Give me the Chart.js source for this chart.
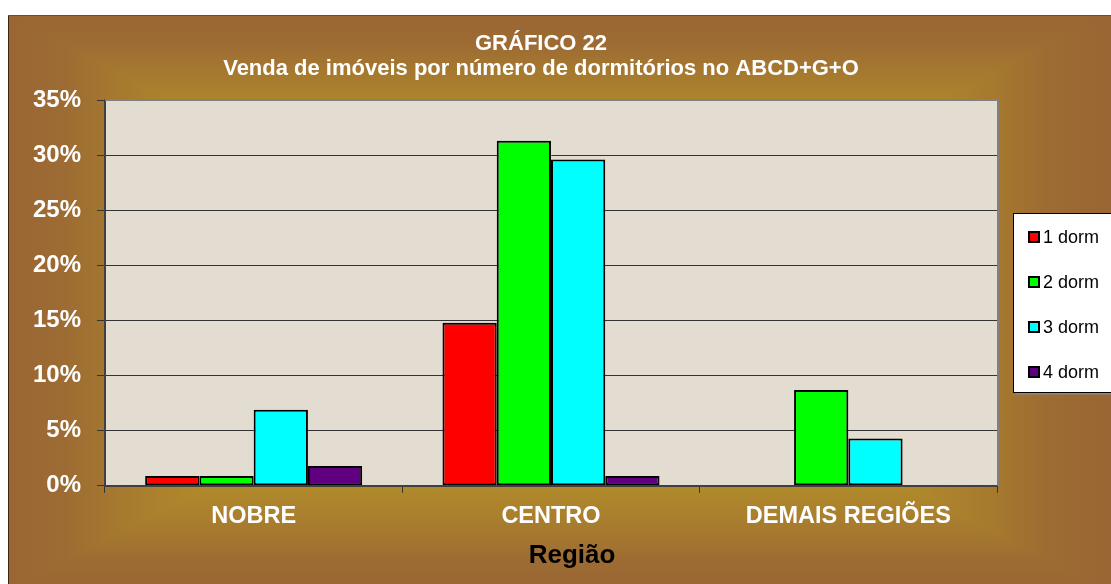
<!DOCTYPE html>
<html lang="pt-BR">
<head>
<meta charset="utf-8">
<title>Gráfico 22</title>
<script src="https://cdn.jsdelivr.net/npm/chart.js@4/dist/chart.umd.min.js"></script>
<style>
  html, body { margin: 0; padding: 0; background: #fff; overflow: hidden; }
  #wrap { position: relative; width: 1111px; height: 584px; }
</style>
</head>
<body>
<div id="wrap"><canvas id="dormChart" width="1111" height="584"></canvas></div>
<script>
'use strict';

// Chart data
const regioes = ['NOBRE', 'CENTRO', 'DEMAIS REGIÕES'];
const dorm1 = [0.9, 14.8, 0];
const dorm2 = [0.9, 31.3, 8.7];
const dorm3 = [6.9, 29.6, 4.3];
const dorm4 = [1.8, 0.9, 0];
const seriesLabels = ['1 dorm', '2 dorm', '3 dorm', '4 dorm'];
const yTicks = [0, 5, 10, 15, 20, 25, 30, 35];
const titleLines = ['GRÁFICO 22', 'Venda de imóveis por número de dormitórios no ABCD+G+O'];
const xAxisTitle = 'Região';

// Colors
const colors = {
  red: '#ff0000',
  green: '#00ff00',
  cyan: '#00ffff',
  purple: '#600080',
  plot: '#e3dcd0',
  grid: '#333333',
  axis: '#404040'
};

const FONT = "'Liberation Sans', Arial, sans-serif";

// Brown/gold rectangular gradient behind the whole chart
function fillFrame(ctx, x0, y0, x1, y1, w, h) {
  const cx = (x0 + x1) / 2;
  const cy = (y0 + y1) / 2;
  const stops = [[1, '#9a6634'], [0.9, '#9d6b33'], [0.8, '#a6792f'], [0.65, '#b0892b'], [0, '#b8952a']];
  const addStops = g => {
    stops.forEach(([t, c]) => {
      g.addColorStop(0.5 - t / 2, c);
      g.addColorStop(0.5 + t / 2, c);
    });
  };
  const hg = ctx.createLinearGradient(x0, 0, x1, 0);
  const vg = ctx.createLinearGradient(0, y0, 0, y1);
  addStops(hg);
  addStops(vg);

  ctx.fillStyle = hg;
  ctx.fillRect(x0, y0, w - x0, h - y0);

  // top and bottom wedges use the vertical gradient
  ctx.save();
  ctx.beginPath();
  ctx.moveTo(x0, y0); ctx.lineTo(x1, y0); ctx.lineTo(cx, cy); ctx.closePath();
  ctx.moveTo(x0, y1); ctx.lineTo(x1, y1); ctx.lineTo(cx, cy); ctx.closePath();
  ctx.clip();
  ctx.fillStyle = vg;
  ctx.fillRect(x0, y0, w - x0, h - y0);
  ctx.restore();
}

const backgroundPlugin = {
  id: 'background',
  beforeDraw(chart) {
    const ctx = chart.ctx;
    const area = chart.chartArea;
    fillFrame(ctx, 8, 15, 1104, 590, chart.width, chart.height);

    // frame border
    ctx.save();
    ctx.lineWidth = 1;
    ctx.strokeStyle = '#5a5048';
    ctx.beginPath();
    ctx.moveTo(chart.width, 15.5);
    ctx.lineTo(8.5, 15.5);
    ctx.stroke();
    ctx.strokeStyle = '#3a2612';
    ctx.beginPath();
    ctx.moveTo(8.5, 16);
    ctx.lineTo(8.5, chart.height);
    ctx.stroke();

    // plot area
    ctx.fillStyle = colors.plot;
    ctx.fillRect(area.left, area.top, area.right - area.left, area.bottom - area.top);
    ctx.restore();
  },
  afterDraw(chart) {
    const ctx = chart.ctx;
    const area = chart.chartArea;

    // gray top/right border of the plot area
    ctx.save();
    ctx.strokeStyle = '#808080';
    ctx.lineWidth = 2;
    ctx.beginPath();
    ctx.moveTo(area.left, area.top);
    ctx.lineTo(area.right + 1, area.top);
    ctx.lineTo(area.right + 1, area.bottom);
    ctx.stroke();

    // chart title
    ctx.fillStyle = '#ffffff';
    ctx.textAlign = 'center';
    ctx.textBaseline = 'middle';
    ctx.font = 'bold 22px ' + FONT;
    titleLines.forEach((line, i) => ctx.fillText(line, 541, 44 + i * 25));

    // category axis title
    ctx.fillStyle = '#000000';
    ctx.font = 'bold 26px ' + FONT;
    ctx.fillText(xAxisTitle, 572, 556);
    ctx.restore();
  }
};

// Legend box on the right
const boxLegendPlugin = {
  id: 'boxLegend',
  afterDraw(chart) {
    const ctx = chart.ctx;
    const x = 1013.5;
    const y = 213.5;
    const w = 130;
    const h = 179;

    ctx.save();
    ctx.fillStyle = '#8a8a8a';
    ctx.fillRect(x + 2, y + 2, w, h);
    ctx.fillStyle = '#ffffff';
    ctx.fillRect(x, y, w, h);
    ctx.strokeStyle = '#000000';
    ctx.lineWidth = 1;
    ctx.strokeRect(x, y, w, h);

    ctx.font = '18px ' + FONT;
    ctx.textBaseline = 'middle';
    ctx.textAlign = 'left';
    chart.data.datasets.forEach((ds, i) => {
      const cy = 237 + i * 45;
      ctx.fillStyle = ds.backgroundColor;
      ctx.fillRect(1029, cy - 5, 10, 10);
      ctx.strokeStyle = '#000000';
      ctx.lineWidth = 2;
      ctx.strokeRect(1029, cy - 5, 10, 10);
      ctx.fillStyle = '#000000';
      ctx.fillText(ds.label, 1043, cy + 1);
    });
    ctx.restore();
  }
};

function makeDataset(label, data, color) {
  return {
    label: label,
    data: data,
    backgroundColor: color,
    borderColor: '#000000',
    borderWidth: 2,
    borderSkipped: false,
    categoryPercentage: 0.73,
    barPercentage: 1.0
  };
}

const ctx = document.getElementById('dormChart').getContext('2d');
new Chart(ctx, {
  type: 'bar',
  data: {
    labels: regioes,
    datasets: [
      makeDataset(seriesLabels[0], dorm1, colors.red),
      makeDataset(seriesLabels[1], dorm2, colors.green),
      makeDataset(seriesLabels[2], dorm3, colors.cyan),
      makeDataset(seriesLabels[3], dorm4, colors.purple)
    ]
  },
  options: {
    responsive: false,
    animation: false,
    devicePixelRatio: 1,
    layout: {
      padding: { left: 0, right: 114, top: 100, bottom: 43 }
    },
    plugins: {
      legend: { display: false },
      tooltip: { enabled: false },
      title: { display: false }
    },
    scales: {
      x: {
        grid: {
          display: true,
          offset: true,
          drawOnChartArea: false,
          drawTicks: true,
          tickLength: 7,
          color: colors.grid
        },
        border: { display: true, color: colors.axis, width: 2 },
        ticks: {
          color: '#ffffff',
          padding: 10,
          font: { family: FONT, size: 23.5, weight: 'bold' }
        }
      },
      y: {
        min: 0,
        max: 35,
        afterFit(scale) {
          scale.width = 105;
        },
        afterBuildTicks(scale) {
          scale.ticks = yTicks.map(v => ({ value: v }));
        },
        grid: {
          color: colors.grid,
          lineWidth: 1,
          drawTicks: true,
          tickLength: 8
        },
        border: { display: true, color: colors.axis, width: 2 },
        ticks: {
          color: '#ffffff',
          padding: 16,
          font: { family: FONT, size: 24, weight: 'bold' },
          callback: value => value + '%'
        }
      }
    }
  },
  plugins: [backgroundPlugin, boxLegendPlugin]
});
</script>
</body>
</html>
